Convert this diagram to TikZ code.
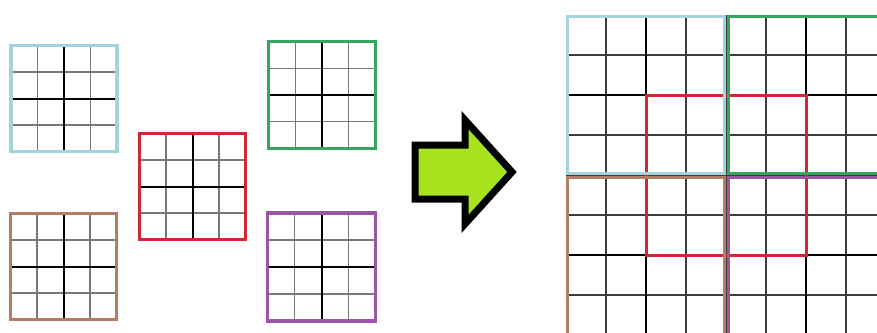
\documentclass[tikz,border=0pt]{standalone}
\definecolor{blueb}{RGB}{163,212,222}
\definecolor{redb}{RGB}{206,40,52}
\definecolor{greenb}{RGB}{52,166,94}
\definecolor{brownb}{RGB}{178,126,98}
\definecolor{purpleb}{RGB}{155,85,165}
\definecolor{limeg}{RGB}{166,226,30}
\definecolor{thingray}{RGB}{120,120,120}
\definecolor{bigthin}{RGB}{60,60,60}
\newcommand{\sgrid}[4]{%
  \foreach \k in {1,3}{%
    \draw[thinln] ({#1+\k*#3/4},#2) -- ({#1+\k*#3/4},{#2+#3});
    \draw[thinln] (#1,{#2+\k*#3/4}) -- ({#1+#3},{#2+\k*#3/4});
  }
  \draw[thickln] ({#1+#3/2},#2) -- ({#1+#3/2},{#2+#3});
  \draw[thickln] (#1,{#2+#3/2}) -- ({#1+#3},{#2+#3/2});
  \draw[border,#4] (#1,#2) rectangle ({#1+#3},{#2+#3});
}
\begin{document}
\begin{tikzpicture}[x=1pt,y=-1pt,
  thinln/.style={thingray,line width=1.1pt},
  bigthinln/.style={bigthin,line width=1.3pt},
  thickln/.style={black,line width=2pt},
  border/.style={line width=3.8pt},
  bigborder/.style={line width=3pt}]
\useasboundingbox (0,0) rectangle (877,332);
\fill[white] (0,0) rectangle (877,332);
\clip (0,0) rectangle (877,332);
% small grids
\sgrid{11}{45.5}{106}{blueb}
\sgrid{139.5}{133.5}{106}{redb}
\sgrid{268.5}{41.5}{107}{greenb}
\sgrid{10.5}{213.5}{106}{brownb}
\sgrid{267.5}{213}{108}{purpleb}
% arrow
\draw[line width=7pt,fill=limeg,line join=miter,miter limit=10]
  (415,145) -- (465,145) -- (465,120) -- (512,172) -- (465,224) -- (465,199) -- (415,199) -- cycle;
% big grid
\foreach \k in {1,3,4,5,7,8}{
  \draw[bigthinln] ({566+40*\k},15) -- ({566+40*\k},340);
  \draw[bigthinln] (566,{15+40*\k}) -- (890,{15+40*\k});
}
\foreach \k in {2,6}{
  \draw[thickln] ({566+40*\k},15) -- ({566+40*\k},340);
  \draw[thickln] (566,{15+40*\k}) -- (890,{15+40*\k});
}
\draw[bigborder,redb] (646,95) rectangle (806,255);
\draw[bigborder,blueb] (567.5,16.5) rectangle (724.5,173.5);
\draw[bigborder,greenb] (728,16.5) rectangle (890,173.5);
\draw[bigborder,brownb] (567.5,177) rectangle (724.5,340);
\draw[bigborder,purpleb] (728,177) rectangle (890,340);
\end{tikzpicture}
\end{document}
